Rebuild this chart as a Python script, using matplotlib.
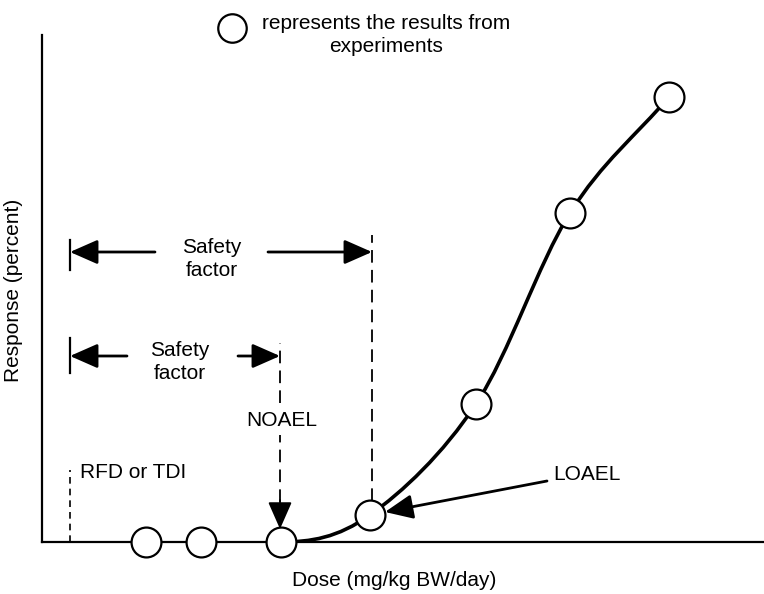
import numpy as np
import matplotlib
matplotlib.use("Agg")
import matplotlib.pyplot as plt
from matplotlib.path import Path
from matplotlib.patches import PathPatch

plt.rcParams['font.family'] = ['Liberation Sans', 'DejaVu Sans']

dose = [104, 159, 239, 328, 434, 528, 627]
response = [0, 0, 0, 27, 138, 329, 445]

noael_dose = 239
loael_dose = 328
rfd_dose = 28

fig = plt.figure(figsize=(7.64, 5.94), dpi=100)
ax = fig.add_axes([42 / 764, 52 / 594, 722 / 764, 507 / 594])
ax.set_xlim(0, 722)
ax.set_ylim(0, 507)
for s in ['top', 'right']:
    ax.spines[s].set_visible(False)
for s in ['left', 'bottom']:
    ax.spines[s].set_linewidth(1.6)
ax.set_xticks([])
ax.set_yticks([])

# smooth dose-response curve from NOAEL upward (Bezier through the points)
cx = np.array(dose[2:], float)
cy = np.array(response[2:], float)
n = len(cx)
tx = np.zeros(n)
ty = np.zeros(n)
tx[0], ty[0] = cx[1] - cx[0], 0.0
for i in range(1, n - 1):
    tx[i] = (cx[i + 1] - cx[i - 1]) / 2
    ty[i] = (cy[i + 1] - cy[i - 1]) / 2
tx[-1], ty[-1] = cx[-1] - cx[-2], cy[-1] - cy[-2]
verts = [(cx[0], cy[0])]
codes = [Path.MOVETO]
for i in range(n - 1):
    verts += [(cx[i] + tx[i] / 3, cy[i] + ty[i] / 3),
              (cx[i + 1] - tx[i + 1] / 3, cy[i + 1] - ty[i + 1] / 3),
              (cx[i + 1], cy[i + 1])]
    codes += [Path.CURVE4] * 3
ax.add_patch(PathPatch(Path(verts, codes), fill=False, lw=2.6, color='black',
                       capstyle='round', zorder=3))

ax.plot(dose, response, 'o', ms=21.5, mfc='white', mec='black', mew=1.6,
        clip_on=False, zorder=5)

# legend marker
ax.plot([190], [514], 'o', ms=20.5, mfc='white', mec='black', mew=1.6,
        clip_on=False, zorder=5)
ax.text(344, 507, 'represents the results from\nexperiments', ha='center',
        va='center', fontsize=15, linespacing=1.25)

dash = dict(color='black', lw=1.3, ls=(0, (7, 4)))
arrow = dict(arrowstyle='-|>,head_length=0.5,head_width=0.22', color='black',
             lw=2, mutation_scale=34, shrinkA=0, shrinkB=0)

# upper safety factor bracket
ax.plot([rfd_dose, rfd_dose], [272, 302], color='black', lw=1.6)
ax.annotate('', xy=(rfd_dose, 290), xytext=(113, 290), arrowprops=arrow)
ax.annotate('', xy=(loael_dose + 2, 290), xytext=(226, 290), arrowprops=arrow)
ax.plot([loael_dose + 2, loael_dose + 2], [41, 307], **dash)
ax.text(170, 283, 'Safety\nfactor', ha='center', va='center', fontsize=15,
        linespacing=1.25)

# lower safety factor bracket
ax.plot([rfd_dose, rfd_dose], [169, 204], color='black', lw=1.6)
ax.annotate('', xy=(rfd_dose, 186), xytext=(85, 186), arrowprops=arrow)
ax.annotate('', xy=(noael_dose - 1, 186), xytext=(196, 186), arrowprops=arrow)
ax.plot([noael_dose - 1, noael_dose - 1], [139, 199], **dash)
ax.text(138, 180, 'Safety\nfactor', ha='center', va='center', fontsize=15,
        linespacing=1.25)

# NOAEL
ax.text(noael_dose + 1, 121, 'NOAEL', ha='center', va='center', fontsize=15)
ax.plot([noael_dose - 1, noael_dose - 1], [40, 107], **dash)
ax.annotate('', xy=(noael_dose - 1, 13), xytext=(noael_dose - 1, 42),
            arrowprops=dict(arrowstyle='-|>,head_length=0.5,head_width=0.22',
                            color='black', lw=1.3, mutation_scale=34,
                            shrinkA=0, shrinkB=0))

# RFD or TDI
ax.plot([rfd_dose, rfd_dose], [0, 72], color='black', lw=1.2, ls=(0, (4, 3)))
ax.text(38, 69, 'RFD or TDI', ha='left', va='center', fontsize=15)

# LOAEL
ax.text(511, 67, 'LOAEL', ha='left', va='center', fontsize=15)
ax.annotate('', xy=(343, 30), xytext=(505, 61), arrowprops=arrow)

fig.text(394 / 764, 1 - 580 / 594, 'Dose (mg/kg BW/day)', ha='center',
         va='center', fontsize=15)
fig.text(14 / 764, 1 - 290 / 594, 'Response (percent)', ha='center',
         va='center', rotation=90, fontsize=15)

fig.savefig('out.png', dpi=100)
